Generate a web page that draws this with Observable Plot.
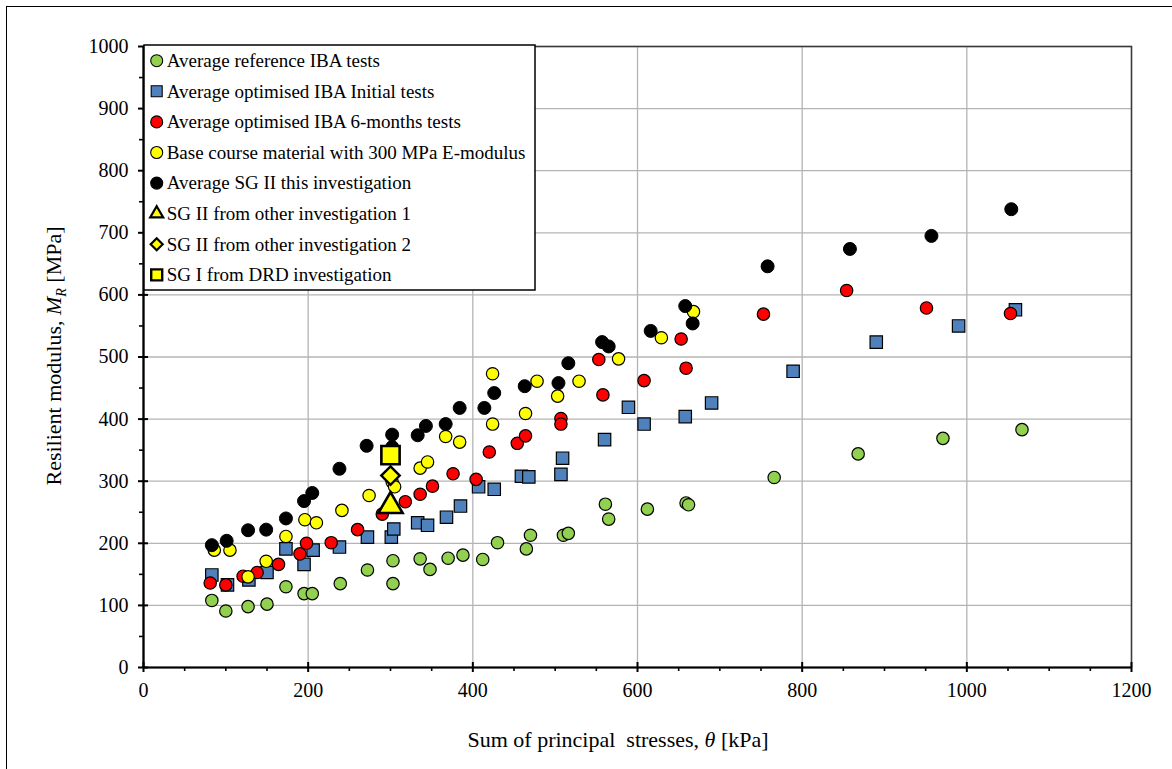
<!DOCTYPE html>
<html>
<head>
<meta charset="utf-8">
<script src="https://cdn.jsdelivr.net/npm/d3@7"></script>
<script src="https://cdn.jsdelivr.net/npm/@observablehq/plot@0.6"></script>
<style>
  html, body { margin: 0; padding: 0; background: #fff; }
  body { width: 1172px; height: 769px; overflow: hidden; position: relative; font-family: "Liberation Serif", "Times New Roman", serif; }
  #chart { position: absolute; left: 0; top: 0; }
  #outer { position: absolute; left: 6px; top: 6px; width: 1300px; height: 900px; border: 1.6px solid #000; pointer-events: none; }
</style>
</head>
<body>
<div id="chart"></div>
<div id="outer"></div>
<script>
// ---------- data ----------
const referenceIBA = [
  [83,108],[100,91],[127,98],[150,102],[173,130],[195,119],[205,119],[239,135],[272,157],[303,172],
  [303,135],[336,175],[348,158],[370,176],[388,181],[412,174],[430,201],[465,191],[470,213],[510,213],
  [516,216],[561,263],[565,239],[612,255],[659,265],[662,262],[766,306],[868,344],[971,369],[1067,383]
];
const initialIBA = [
  [83,149],[102,133],[128,141],[150,153],[173,191],[195,166],[206,189],[238,194],[272,210],[301,210],
  [304,223],[333,233],[345,229],[368,242],[385,260],[407,291],[426,287],[459,308],[468,307],[507,311],
  [509,337],[560,367],[589,419],[608,392],[658,404],[690,426],[789,477],[890,524],[990,550],[1059,576]
];
const sixMonthIBA = [
  [81,136],[100,133],[121,147],[138,153],[164,166],[190,183],[198,200],[228,201],[260,222],[290,247],
  [318,267],[336,279],[351,292],[376,312],[404,303],[420,347],[454,361],[464,373],[507,401],[507,392],
  [553,496],[558,439],[608,462],[653,529],[659,482],[753,569],[854,607],[951,579],[1053,570]
];
const baseCourse = [
  [86,189],[105,189],[127,146],[149,171],[173,211],[196,238],[210,233],[241,253],[274,277],[302,299],
  [305,291],[336,321],[345,331],[367,372],[384,363],[424,392],[424,473],[464,409],[478,461],[503,437],
  [529,461],[577,497],[629,531],[668,573]
];
const sgIIthis = [
  [83,197],[101,204],[127,221],[149,222],[173,240],[195,268],[205,281],[238,320],[271,357],[302,375],
  [302,355],[333,374],[343,389],[367,392],[384,418],[414,418],[426,442],[463,453],[504,458],[516,490],
  [557,524],[565,517],[616,542],[658,582],[667,554],[758,646],[858,674],[957,695],[1054,738]
];
const sgIIother1 = [[300,260]];
const sgIIother2 = [[300,309]];
const sgIdrd = [[300,342]];

const seriesLabels = [
  "Average reference IBA tests",
  "Average optimised IBA Initial tests",
  "Average optimised IBA 6-months tests",
  "Base course material with 300 MPa E-modulus",
  "Average SG II this investigation",
  "SG II from other investigation 1",
  "SG II from other investigation 2",
  "SG I from DRD investigation"
];
const xMajorTicks = [0, 200, 400, 600, 800, 1000, 1200];
const xMinorTicks = [50,100,150,250,300,350,450,500,550,650,700,750,850,900,950,1050,1100,1150];
const yMajorTicks = [0,100,200,300,400,500,600,700,800,900,1000];
const yMinorTicks = [50,150,250,350,450,550,650,750,850,950];

// ---------- chart ----------
const diamond2 = d3.symbolDiamond2 || d3.symbolDiamond;
const toObj = a => a.map(([x, y]) => ({x, y}));
const fontFam = "Liberation Serif, Times New Roman, serif";

const plot = Plot.plot({
  width: 1172,
  height: 769,
  marginLeft: 143,
  marginRight: 41,
  marginTop: 46,
  marginBottom: 102,
  x: {domain: [0, 1200]},
  y: {domain: [0, 1000]},
  style: {fontFamily: fontFam, fontSize: "20px", color: "#000", background: "transparent", overflow: "visible"},
  marks: [
    Plot.ruleX(xMajorTicks.slice(1), {stroke: "#b4b4b4", strokeWidth: 1.3}),
    Plot.ruleY(yMajorTicks.slice(1), {stroke: "#b4b4b4", strokeWidth: 1.3}),
    Plot.frame({stroke: "#3a3a3a", strokeWidth: 1.5}),
    Plot.axisX({ticks: xMajorTicks, tickSize: 0, tickPadding: 15, tickFormat: d => String(d), label: null, fontSize: 20}),
    Plot.axisY({ticks: yMajorTicks, tickSize: 0, tickPadding: 15, tickFormat: d => String(d), label: null, fontSize: 20}),
    Plot.ruleX(xMajorTicks, {x: d => d, y1: 0, y2: 0, insetTop: 5, insetBottom: 5, stroke: "#000", strokeWidth: 2}),
    Plot.ruleX(xMinorTicks, {x: d => d, y1: 0, y2: 0, insetTop: 4, insetBottom: 0, stroke: "#000", strokeWidth: 1.6}),
    Plot.ruleY(yMajorTicks, {y: d => d, x1: 0, x2: 0, insetLeft: -5, insetRight: -5, stroke: "#000", strokeWidth: 2}),
    Plot.ruleY(yMinorTicks, {y: d => d, x1: 0, x2: 0, insetLeft: -4, insetRight: 0, stroke: "#000", strokeWidth: 1.6}),
    Plot.ruleY([0], {stroke: "#000", strokeWidth: 2.2}),
    Plot.ruleX([0], {stroke: "#000", strokeWidth: 2.2}),
    Plot.dot(toObj(referenceIBA), {x: "x", y: "y", r: 6.2, fill: "#92D050", stroke: "#000", strokeWidth: 1.2}),
    Plot.dot(toObj(initialIBA), {x: "x", y: "y", r: 7, symbol: "square", fill: "#4F81BD", stroke: "#000", strokeWidth: 1.2}),
    Plot.dot(toObj(sixMonthIBA), {x: "x", y: "y", r: 6.2, fill: "#FF0000", stroke: "#000", strokeWidth: 1.2}),
    Plot.dot(toObj(baseCourse), {x: "x", y: "y", r: 6.2, fill: "#FFFF00", stroke: "#000", strokeWidth: 1.2}),
    Plot.dot(toObj(sgIIthis), {x: "x", y: "y", r: 6.5, fill: "#000", stroke: "#000", strokeWidth: 1}),
    Plot.dot(toObj(sgIIother1), {x: "x", y: "y", r: 9, symbol: "triangle", fill: "#FFFF00", stroke: "#000", strokeWidth: 2.6, strokeLinejoin: "miter"}),
    Plot.dot(toObj(sgIIother2), {x: "x", y: "y", r: 8.3, symbol: diamond2, fill: "#FFFF00", stroke: "#000", strokeWidth: 2.4, strokeLinejoin: "miter"}),
    Plot.dot(toObj(sgIdrd), {x: "x", y: "y", r: 10.3, symbol: "square", fill: "#FFFF00", stroke: "#000", strokeWidth: 2.6})
  ]
});
document.getElementById("chart").appendChild(plot);

const svg = d3.select(plot);

// ---------- axis titles ----------
const xt = svg.append("text")
  .attr("x", 618).attr("y", 747)
  .attr("text-anchor", "middle")
  .attr("font-family", fontFam).attr("font-size", 22).attr("fill", "#000");
xt.append("tspan").text("Sum of principal  stresses, ").attr("style", "white-space:pre");
xt.append("tspan").attr("font-style", "italic").text("θ");
xt.append("tspan").text(" [kPa]").attr("style", "white-space:pre");

const yt = svg.append("text")
  .attr("transform", "translate(60.5,356) rotate(-90)")
  .attr("text-anchor", "middle")
  .attr("font-family", fontFam).attr("font-size", 22).attr("fill", "#000");
yt.append("tspan").text("Resilient modulus, ").attr("style", "white-space:pre");
yt.append("tspan").attr("font-style", "italic").text("M");
yt.append("tspan").attr("font-style", "italic").attr("font-size", 14).attr("dy", 5).text("R");
yt.append("tspan").attr("dy", -5).text(" [MPa]").attr("style", "white-space:pre");

// ---------- legend ----------
const legendStyles = [
  {sym: d3.symbolCircle, size: 12, fill: "#92D050", sw: 1.1},
  {sym: d3.symbolSquare, size: 11, fill: "#4F81BD", sw: 1.1},
  {sym: d3.symbolCircle, size: 12, fill: "#FF0000", sw: 1.1},
  {sym: d3.symbolCircle, size: 12, fill: "#FFFF00", sw: 1.1},
  {sym: d3.symbolCircle, size: 12, fill: "#000", sw: 1.1},
  {sym: d3.symbolTriangle, size: 13, fill: "#FFFF00", sw: 2.2},
  {sym: diamond2, size: 12, fill: "#FFFF00", sw: 2.2},
  {sym: d3.symbolSquare, size: 11, fill: "#FFFF00", sw: 2.4}
];
const lg = svg.append("g").attr("transform", "translate(144,45)");
lg.append("rect").attr("width", 391).attr("height", 245)
  .attr("fill", "#fff").attr("stroke", "#000").attr("stroke-width", 1.5);
seriesLabels.forEach((label, i) => {
  const cy = 15.7 + i * 30.6;
  const st = legendStyles[i];
  let area;
  if (st.sym === d3.symbolCircle) area = Math.PI * (st.size / 2) ** 2;
  else if (st.sym === d3.symbolSquare) area = st.size ** 2;
  else if (st.sym === d3.symbolTriangle) area = (st.size / (2 * Math.sqrt(3))) ** 2 * 3 * Math.sqrt(3);
  else area = (st.size / 2 / 0.62625) ** 2;
  lg.append("path")
    .attr("d", d3.symbol(st.sym, area)())
    .attr("transform", `translate(12.7,${cy})`)
    .attr("fill", st.fill).attr("stroke", "#000").attr("stroke-width", st.sw)
    .attr("stroke-linejoin", "miter");
  lg.append("text")
    .attr("x", 22.7).attr("y", cy + 6.2)
    .attr("text-anchor", "start")
    .attr("font-family", fontFam).attr("font-size", 19).attr("fill", "#000")
    .text(label);
});
</script>
</body>
</html>
